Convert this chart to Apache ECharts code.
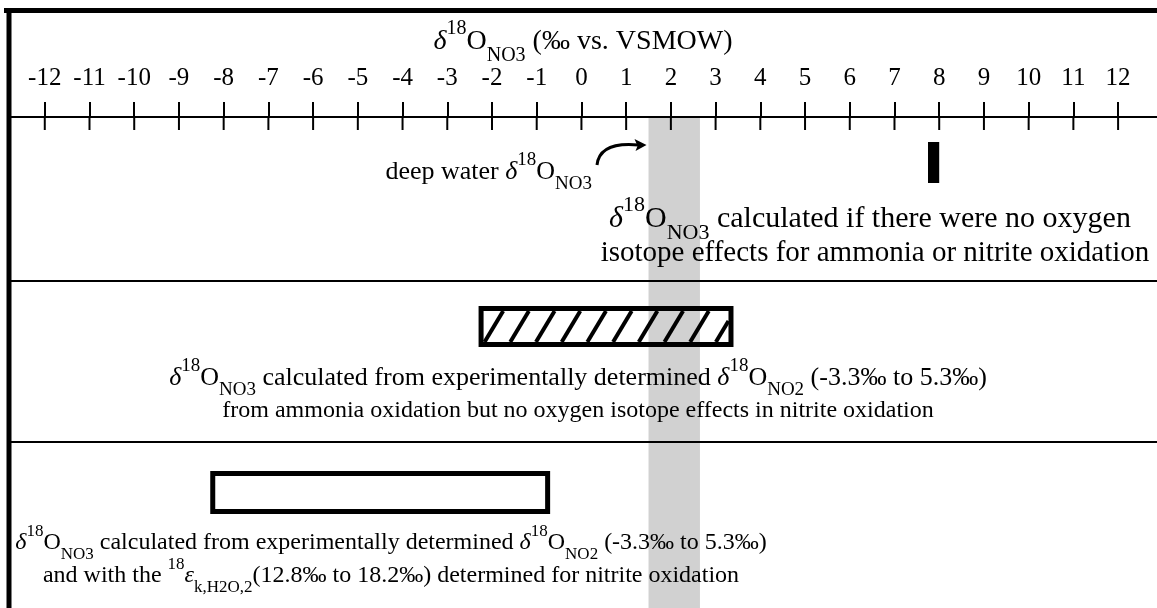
<!DOCTYPE html>
<html><head><meta charset="utf-8">
<script src="https://cdn.jsdelivr.net/npm/echarts@6/dist/echarts.min.js"></script>
<style>html,body{margin:0;padding:0;background:#fff}#c{width:1157px;height:608px}</style>
</head><body><div id="c"></div>
<script>
// ---- data ----
const tickValues = [-12,-11,-10,-9,-8,-7,-6,-5,-4,-3,-2,-1,0,1,2,3,4,5,6,7,8,9,10,11,12];
const axisRange = [-12.8, 12.87];
const deepWaterRange = [1.5, 2.65];
const noEffectRange = [7.75, 8.0];
const ammoniaOnlyRange = [-2.3, 3.4];
const nitriteEffectRange = [-8.3, -0.7];

// ---- text (rich segments) ----
const titleSegs = [['i','δ'],['sup','18'],['n','O'],['sub','NO3'],['n',' (‰ vs. VSMOW)']];
const deepWaterSegs = [['n','deep water '],['i','δ'],['sup','18'],['n','O'],['sub','NO3']];
const row1Line1 = [['i','δ'],['sup','18'],['n','O'],['sub','NO3'],['n',' calculated if there were no oxygen']];
const row1Line2 = [['n','isotope effects for ammonia or nitrite oxidation']];
const row2Line1 = [['i','δ'],['sup','18'],['n','O'],['sub','NO3'],['n',' calculated from experimentally determined '],['i','δ'],['sup','18'],['n','O'],['sub','NO2'],['n',' (-3.3‰ to 5.3‰)']];
const row2Line2 = [['n','from ammonia oxidation but no oxygen isotope effects in nitrite oxidation']];
const row3Line1 = row2Line1;
const row3Line2 = [['n','and with the '],['sup','18'],['i','ε'],['sub','k,H2O,2'],['n','(12.8‰ to 18.2‰) determined for nitrite oxidation']];

// ---- layout / styles ----
const FF = '"Liberation Serif","Times New Roman",Times,serif';
const rowLayout = [
  {top: 142, height: 41, kind: 'solid'},
  {top: 306, height: 41, kind: 'hatch'},
  {top: 471, height: 43, kind: 'open'}
];
const dividerYs = [281, 442];

function richFor(F){
  const S = Math.round(F * 0.72);
  const L = Math.round(F * 1.667);
  return {
    n:   {fontFamily: FF, fontSize: F, lineHeight: L, verticalAlign: 'middle', fill: '#000'},
    i:   {fontFamily: FF, fontSize: F, lineHeight: L, verticalAlign: 'middle', fontStyle: 'italic', fill: '#000'},
    sup: {fontFamily: FF, fontSize: S, lineHeight: Math.round(F * 1.0), verticalAlign: 'top', fill: '#000'},
    sub: {fontFamily: FF, fontSize: S, lineHeight: Math.round(F * 0.8), verticalAlign: 'bottom', fill: '#000'}
  };
}
function rich(segs){ return segs.map(s => '{' + s[0] + '|' + s[1] + '}').join(''); }
function textEl(segs, x, y, align, F){
  return {type: 'text', x: x, y: y, z: 20,
    style: {text: rich(segs), align: align, verticalAlign: 'middle', rich: richFor(F),
            fill: '#000', fontFamily: FF, fontSize: F}};
}

const chart = echarts.init(document.getElementById('c'), null, {renderer: 'canvas'});

const barData = [
  [noEffectRange[0], noEffectRange[1], 0],
  [ammoniaOnlyRange[0], ammoniaOnlyRange[1], 1],
  [nitriteEffectRange[0], nitriteEffectRange[1], 2]
];

function hatchLines(x0, y0, x1, y1, spacing, slant, lw){
  const h = y1 - y0, out = [];
  const dx = h * slant;
  for (let bx = x0 + 1; bx < x1; bx += spacing){
    let sx = bx, sy = y1, ex = bx + dx, ey = y0;
    if (ex > x1){ ey = y1 - (x1 - bx) / dx * h; ex = x1; }
    if (ex <= sx) continue;
    out.push({type: 'line', shape: {x1: sx, y1: sy, x2: ex, y2: ey},
      style: {stroke: '#000', lineWidth: lw}});
  }
  return out;
}

const option = {
  animation: false,
  backgroundColor: '#fff',
  grid: {left: 9, right: 0, top: 117, bottom: 0, containLabel: false},
  xAxis: {type: 'value', position: 'top', min: axisRange[0], max: axisRange[1], z: 5,
     axisLine: {show: true, onZero: false, lineStyle: {color: '#000', width: 2}},
     axisTick: {show: true, inside: false, length: 15, customValues: tickValues, lineStyle: {color: '#000', width: 2}},
     axisLabel: {show: true, customValues: tickValues, margin: 26, color: '#000', fontFamily: FF, fontSize: 25},
     splitLine: {show: false}},
  yAxis: {type: 'value', min: 0, max: 1, show: false},
  series: [
    {type: 'custom', z: 1, data: [deepWaterRange], silent: true,
     renderItem: function(params, api){
       const cs = params.coordSys;
       const xa = api.coord([api.value(0), 0])[0];
       const xb = api.coord([api.value(1), 0])[0];
       return {type: 'rect', shape: {x: xa, y: cs.y, width: xb - xa, height: cs.height},
               style: {fill: '#d1d1d1'}};
     }},
    // lower halves of the tick marks (crossing the axis line)
    {type: 'custom', z: 9, data: tickValues.map(v => [v]), silent: true,
     renderItem: function(params, api){
       const cs = params.coordSys;
       const x = api.coord([api.value(0), 0])[0];
       return {type: 'line', shape: {x1: x, y1: cs.y, x2: x, y2: cs.y + 13},
               style: {stroke: '#000', lineWidth: 2}};
     }},
    {type: 'custom', z: 8, data: [[deepWaterRange[0]]], silent: true,
     renderItem: function(params, api){
       const ex = api.coord([api.value(0), 0])[0] - 2;
       const sx = 597, sy = 165, ey = 145;
       return {type: 'group', children: [
         {type: 'bezierCurve', shape: {x1: sx, y1: sy, cpx1: sx + 2, cpy1: ey + 2, cpx2: sx + 20, cpy2: ey - 2, x2: ex - 8, y2: ey},
          style: {stroke: '#000', lineWidth: 3, fill: null}},
         {type: 'polygon', shape: {points: [[ex, ey], [ex - 12, ey - 6], [ex - 9, ey + 1], [ex - 11, ey + 6]]},
          style: {fill: '#000'}}
       ]};
     }},
    {type: 'custom', z: 6, data: barData, silent: true,
     renderItem: function(params, api){
       const xa = api.coord([api.value(0), 0])[0];
       const xb = api.coord([api.value(1), 0])[0];
       const row = rowLayout[api.value(2)];
       const y0 = row.top, h = row.height;
       if (row.kind === 'solid'){
         return {type: 'rect', shape: {x: xa, y: y0, width: xb - xa, height: h}, style: {fill: '#000'}};
       }
       const bw = 5;
       const children = [];
       if (row.kind === 'hatch'){
         hatchLines(xa + bw, y0 + bw, xb - bw, y0 + h - bw, 25.7, 0.6, 4).forEach(c => children.push(c));
       }
       children.push({type: 'rect', shape: {x: xa + bw / 2, y: y0 + bw / 2, width: xb - xa - bw, height: h - bw},
         style: {fill: null, stroke: '#000', lineWidth: bw}});
       return {type: 'group', children: children};
     }}
  ],
  graphic: [
    {type: 'line', z: 15, shape: {x1: 4, y1: 10.5, x2: 1157, y2: 10.5}, style: {stroke: '#000', lineWidth: 5}},
    {type: 'line', z: 15, shape: {x1: 9, y1: 8, x2: 9, y2: 608}, style: {stroke: '#000', lineWidth: 5}},
    {type: 'line', z: 15, shape: {x1: 9, y1: dividerYs[0], x2: 1157, y2: dividerYs[0]}, style: {stroke: '#000', lineWidth: 2}},
    {type: 'line', z: 15, shape: {x1: 9, y1: dividerYs[1], x2: 1157, y2: dividerYs[1]}, style: {stroke: '#000', lineWidth: 2}},
    textEl(titleSegs, 583, 42, 'center', 28),
    textEl(deepWaterSegs, 592, 172, 'right', 26),
    textEl(row1Line1, 870, 219, 'center', 30),
    textEl(row1Line2, 875, 253, 'center', 29),
    textEl(row2Line1, 578, 378, 'center', 26),
    textEl(row2Line2, 578, 411, 'center', 24),
    textEl(row3Line1, 391, 543, 'center', 24),
    textEl(row3Line2, 391, 576, 'center', 24)
  ]
};
chart.setOption(option);
</script>
</body></html>
